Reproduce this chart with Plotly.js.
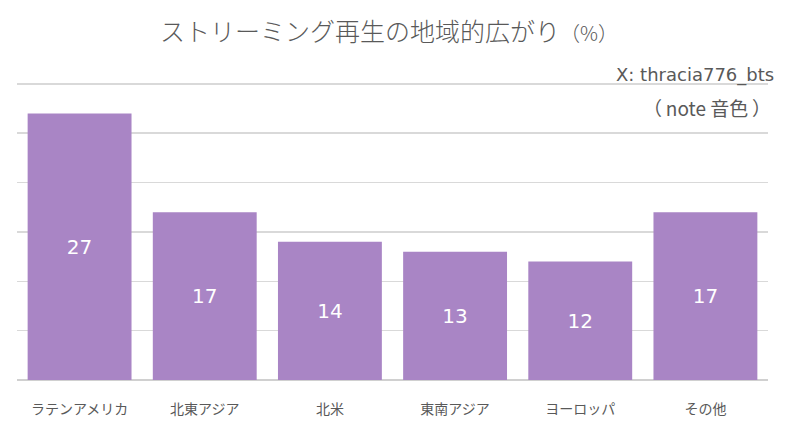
<!DOCTYPE html>
<html>
<head>
<meta charset="utf-8">
<script src="https://cdn.plot.ly/plotly-3.0.1.min.js"></script>
<style>
  html, body { margin: 0; padding: 0; background: #fff; }
  #chart { width: 786px; height: 427px; }
</style>
</head>
<body>
<div id="chart"></div>
<script>
// ---- data ----
const regions = ['ラテンアメリカ', '北東アジア', '北米', '東南アジア', 'ヨーロッパ', 'その他'];
const shares = [27, 17, 14, 13, 12, 17];
const gridVals = [0, 5, 10, 15, 20, 25, 30];

const barColor = '#A985C5';
const textColor = '#595959';
const font = '"Noto Sans CJK JP", "Noto Sans", sans-serif';
const latin = '"DejaVu Sans", "Noto Sans CJK JP", sans-serif';

Plotly.newPlot('chart', [{
  type: 'bar',
  x: regions,
  y: shares,
  marker: { color: barColor },
  text: shares.map(String),
  textposition: 'inside',
  insidetextanchor: 'middle',
  textangle: 0,
  textfont: { family: latin, size: 20, color: '#ffffff' },
  hoverinfo: 'skip',
}], {
  width: 786,
  height: 427,
  margin: { l: 17, r: 18, t: 74, b: 47 },
  paper_bgcolor: '#ffffff',
  plot_bgcolor: '#ffffff',
  bargap: 0.17,
  showlegend: false,
  font: { family: font, color: textColor },
  title: {
    text: 'ストリーミング再生の地域的広がり<span style="font-size:20px">（%）</span>',
    font: { family: font, size: 25, color: textColor, weight: 300 },
    x: 0.495,
    xanchor: 'center',
    y: 0.925,
    yanchor: 'middle',
  },
  xaxis: {
    showgrid: false,
    zeroline: false,
    showline: false,
    ticks: '',
    ticklabelstandoff: 19,
    tickfont: { family: font, size: 14, color: textColor },
  },
  yaxis: {
    range: [0, 31],
    tickvals: gridVals,
    showticklabels: false,
    showgrid: true,
    gridcolor: '#d9d9d9',
    gridwidth: 1.5,
    zeroline: true,
    zerolinecolor: '#d0d0d0',
    zerolinewidth: 2,
    ticks: '',
  },
  annotations: [
    {
      text: 'X: thracia776_bts',
      xref: 'paper', yref: 'paper',
      x: 1.01, y: 0.997,
      xanchor: 'right', yanchor: 'middle',
      showarrow: false,
      font: { family: latin, size: 18, color: textColor },
    },
    {
      text: '（\u2009note 音色\u2009）',
      xref: 'paper', yref: 'paper',
      x: 1.006, y: 0.889,
      xanchor: 'right', yanchor: 'middle',
      showarrow: false,
      font: { family: font, size: 19, color: textColor },
    },
  ],
}, { displayModeBar: false, staticPlot: true });
</script>
</body>
</html>
